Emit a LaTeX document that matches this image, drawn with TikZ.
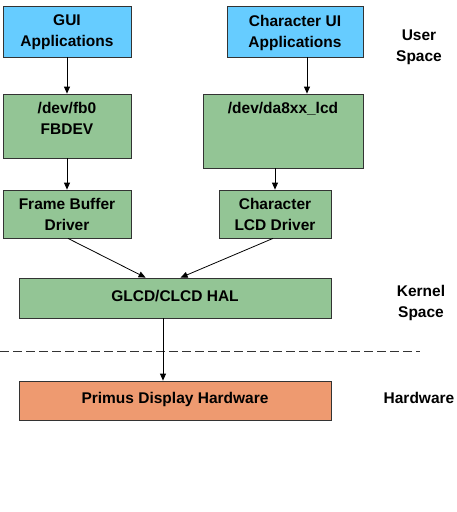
\documentclass[tikz,border=0pt]{standalone}
\usepackage{fontspec}
\setmainfont{Liberation Sans}
\usetikzlibrary{positioning, arrows.meta, calc}
\definecolor{cApp} {HTML}{66CCFF}
\definecolor{cKern}{HTML}{93C595}
\definecolor{cHw}  {HTML}{EE9A70}
\definecolor{cEdge}{HTML}{333333}
\tikzset{
  boxBase/.style={draw=cEdge, line width=0.8pt, align=center, inner sep=0pt,
                  font=\bfseries\fontsize{15.5}{21}\selectfont},
  appBox/.style={boxBase, fill=cApp},
  kernBox/.style={boxBase, fill=cKern},
  hwBox/.style={boxBase, fill=cHw},
  sideLabel/.style={align=center, font=\bfseries\fontsize{15.5}{21}\selectfont},
  topText/.style={sideLabel, anchor=north, inner sep=8pt},
  flowArrow/.style={-{Triangle[length=7pt, width=6pt]}, line width=0.8pt},
}

\begin{document}
\begin{tikzpicture}[x=1pt, y=-1pt]
  \useasboundingbox (0,0) rectangle (456,512);

  % user space
  \node[appBox, minimum width=128, minimum height=51, text depth=1pt] (guiApp) at (67,31.5)
       {GUI\\Applications};
  \node[appBox, minimum width=136, minimum height=51, text depth=1pt] (charApp) at (295,31.5)
       {Character UI\\Applications};

  % device nodes
  \node[kernBox, minimum width=128, minimum height=64,
        label={[topText]north:/dev/fb0\\FBDEV}]
       (fbDev) at (67,126) {};
  \node[kernBox, minimum width=160, minimum height=74,
        label={[topText]north:/dev/da8xx\_lcd}]
       (lcdDev) at (283,131) {};

  % drivers
  \node[kernBox, minimum width=128, minimum height=48] (fbDrv) at (67,214)
       {Frame Buffer\\Driver};
  \node[kernBox, minimum width=112, minimum height=48] (lcdDrv) at (275,214)
       {Character\\LCD Driver};

  % HAL and hardware
  \node[kernBox, minimum width=312, minimum height=40] (halNode) at (175,298)
       {\raisebox{5pt}{GLCD/CLCD HAL}};
  \node[hwBox, minimum width=312, minimum height=39] (hwNode) at (175,400.5)
       {\raisebox{5pt}{Primus Display Hardware}};

  % side labels
  \node[sideLabel] (userLbl) at (419,47) {User\\Space};
  \node[sideLabel] (kernLbl) at (421,303) {Kernel\\Space};
  \node[sideLabel] (hwLbl) at (419,398) {Hardware};

  % boundary
  \coordinate (splitL) at (0,351);
  \coordinate (splitR) at (420,351);
  \draw[cEdge, line width=0.8pt, dash pattern=on 9pt off 4pt] (splitL) -- (splitR);

  % arrows
  \coordinate (charOut) at ($(charApp.south)+(12,0)$);
  \coordinate (fbOut) at ($(fbDrv.south)+(1,0)$);
  \coordinate (lcdOut) at ($(lcdDrv.south)+(-2,0)$);
  \coordinate (halInL) at ($(halNode.north west)+(127,0)$);
  \coordinate (halInR) at ($(halNode.north west)+(162,0)$);
  \coordinate (halOut) at ($(halNode.south)+(-12,0)$);
  \draw[flowArrow] (guiApp.south -| fbDev.north) -- (fbDev.north);
  \draw[flowArrow] (charOut) -- (charOut |- lcdDev.north);
  \draw[flowArrow] (fbDev.south) -- (fbDrv.north);
  \draw[flowArrow] (lcdDrv.north |- lcdDev.south) -- (lcdDrv.north);
  \draw[flowArrow] (fbOut) -- (halInL);
  \draw[flowArrow] (lcdOut) -- (halInR);
  \draw[flowArrow] (halOut) -- (halOut |- hwNode.north);
\end{tikzpicture}
\end{document}
